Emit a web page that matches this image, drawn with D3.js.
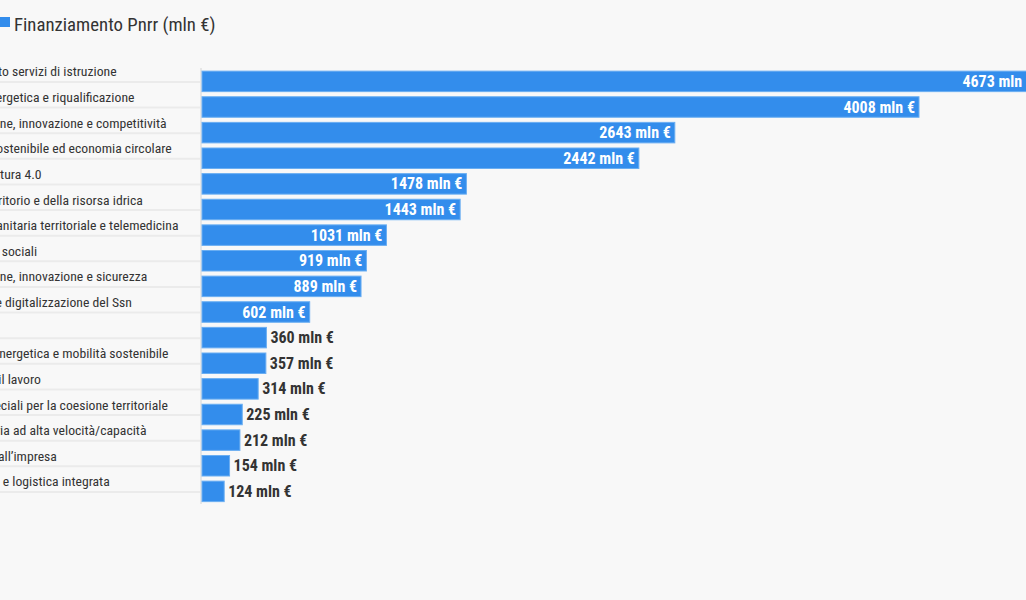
<!DOCTYPE html>
<html>
<head>
<meta charset="utf-8">
<script src="https://cdn.jsdelivr.net/npm/d3@7"></script>
<style>
  html, body { margin: 0; padding: 0; background: #f8f8f8; overflow: hidden; }
  svg { display: block; }
  text { font-family: "Roboto Condensed", "Roboto", sans-serif; font-stretch: condensed; }
</style>
</head>
<body>
<svg id="chart" width="1026" height="600"></svg>
<script>
const categories = [
  "Potenziamento servizi di istruzione",
  "Efficienza energetica e riqualificazione",
  "Digitalizzazione, innovazione e competitività",
  "Agricoltura sostenibile ed economia circolare",
  "Turismo e cultura 4.0",
  "Tutela del territorio e della risorsa idrica",
  "Assistenza sanitaria territoriale e telemedicina",
  "Infrastrutture sociali",
  "Digitalizzazione, innovazione e sicurezza",
  "Innovazione e digitalizzazione del Ssn",
  "Ricerca",
  "Transizione energetica e mobilità sostenibile",
  "Politiche per il lavoro",
  "Interventi speciali per la coesione territoriale",
  "Rete ferroviaria ad alta velocità/capacità",
  "Dalla ricerca all’impresa",
  "Intermodalità e logistica integrata"
];
const values = [4673, 4008, 2643, 2442, 1478, 1443, 1031, 919, 889, 602, 360, 357, 314, 225, 212, 154, 124];
const seriesName = "Finanziamento Pnrr (mln €)";
const unit = " mln €";

const svg = d3.select("#chart");
const barColor = "#338dec";
const barStroke = "#6aaef2";

const x0 = 202;
const x = d3.scaleLinear().domain([0, 4008]).range([x0, 919]);
const y = d3.scaleBand().domain(categories).range([66, 506.75]).paddingInner(0.2).paddingOuter(0.2);

// legend
const leg = svg.append("g");
leg.append("rect").attr("x", 0).attr("y", 17).attr("width", 10).attr("height", 10).attr("fill", barColor);
leg.append("text").attr("x", 14).attr("y", 30.5).attr("font-size", 18.8).attr("fill", "#333")
  .text(seriesName);

// row separators + labels
const rows = svg.append("g");
categories.forEach((c) => {
  const cy = y(c) + y.bandwidth() / 2;
  rows.append("line").attr("x1", -300).attr("x2", x0 - 1).attr("y1", cy + 0.5).attr("y2", cy + 0.5)
    .attr("stroke", "#ebebeb").attr("stroke-width", 2);
  rows.append("text").attr("x", -72.5).attr("y", cy - 5).attr("font-size", 13.7).attr("fill", "#333")
    .text(c);
});

// axis line
svg.append("line").attr("x1", x0 - 1).attr("x2", x0 - 1).attr("y1", 68).attr("y2", 504)
  .attr("stroke", "#e6e6e6").attr("stroke-width", 2);

// bars
const bars = svg.append("g");
categories.forEach((c, i) => {
  const v = values[i];
  bars.append("rect").attr("x", x(0)).attr("y", y(c)).attr("width", x(v) - x(0)).attr("height", y.bandwidth())
    .attr("fill", barColor).attr("stroke", barStroke).attr("stroke-width", 1);
});

// value labels
const labels = svg.append("g");
categories.forEach((c, i) => {
  const v = values[i];
  const cy = y(c) + y.bandwidth() / 2;
  const t = labels.append("text").attr("y", cy + 5.5).attr("font-size", 16).attr("font-weight", "bold")
    .text(v + unit);
  const w = t.node().getComputedTextLength();
  const bw = x(v) - x(0);
  if (w + 8 < bw) {
    t.attr("x", x(v) - 4).attr("text-anchor", "end").attr("fill", "#fff");
  } else {
    t.attr("x", x(v) + 4).attr("text-anchor", "start").attr("fill", "#333");
  }
});
</script>
</body>
</html>
